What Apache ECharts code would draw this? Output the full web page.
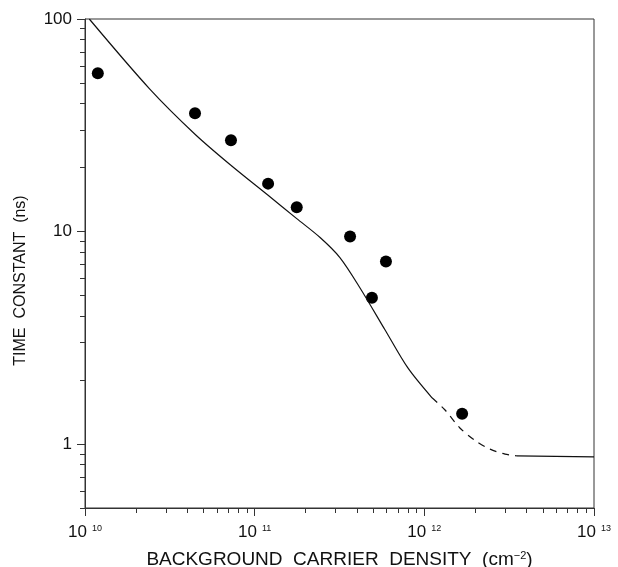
<!DOCTYPE html>
<html>
<head>
<meta charset="utf-8">
<script src="https://cdn.jsdelivr.net/npm/echarts@6.0.0/dist/echarts.min.js"></script>
<style>
html, body { margin: 0; padding: 0; background: #fff; }
#main { width: 618px; height: 567px; }
</style>
</head>
<body>
<div id="main"></div>
<script>
// measured points (density in cm^-2, time in ns)
var densityPts = [1.19e10, 4.45e10, 7.25e10, 1.20e11, 1.77e11, 3.65e11, 5.94e11, 4.91e11, 1.67e12];
var timePts = [55.6, 36.0, 26.9, 16.8, 13.0, 9.47, 7.22, 4.88, 1.39];

// calculated curve, solid part
var curveN = [1.06e10, 2.41e10, 4.45e10, 7.24e10, 1.20e11, 1.77e11, 2.43e11, 3.18e11, 4.17e11, 5.86e11, 8.00e11, 1.11e12];
var curveT = [100, 46.8, 28.7, 20.5, 14.8, 11.5, 9.37, 7.54, 5.44, 3.45, 2.28, 1.65];
// dashed part
var dashN = [1.11e12, 1.32e12, 1.62e12, 1.99e12, 2.44e12, 2.99e12, 3.51e12];
var dashT = [1.65, 1.45, 1.19, 1.04, 0.946, 0.897, 0.88];
// flat tail
var tailN = [3.51e12, 1e13];
var tailT = [0.88, 0.87];

// axis ranges
var xMin = 1e10, xMax = 1e13;
var yMin = 0.5, yMax = 100;
var yLabels = [1, 10, 100];

var myChart = echarts.init(document.getElementById('main'));

function lg(v) { return Math.log10(v); }
function pairs(xs, ys) {
    return xs.map(function (x, i) { return [lg(x), lg(ys[i])]; });
}

// minor ticks at 2..9 of every decade
var xMinor = [], yMinor = [];
for (var d = lg(xMin); d < lg(xMax); d++) {
    for (var k = 2; k < 10; k++) xMinor.push(d + lg(k));
}
for (var d2 = -1; d2 < 2; d2++) {
    for (var k2 = 2; k2 < 10; k2++) {
        var v = d2 + lg(k2);
        if (v >= lg(yMin) - 1e-9) yMinor.push(v);
    }
}

var axisColor = '#333';
var font = 'Liberation Sans';
var rect = { left: 85, right: 24, top: 19, bottom: 59, outerBoundsMode: 'none', containLabel: false };

var option = {
    animation: false,
    grid: [
        Object.assign({ show: true, borderColor: axisColor, borderWidth: 1 }, rect),
        Object.assign({}, rect)
    ],
    xAxis: [{
        type: 'value',
        gridIndex: 0,
        min: lg(xMin),
        max: lg(xMax),
        interval: 1,
        splitLine: { show: false },
        axisLine: { onZero: false, lineStyle: { color: axisColor, width: 1 } },
        axisTick: { length: 8, lineStyle: { color: axisColor } },
        axisLabel: {
            margin: 16,
            formatter: function (v) { return '{b|10}{s|' + v + '}'; },
            rich: {
                b: { fontFamily: font, fontSize: 17, color: '#111' },
                s: { fontFamily: font, fontSize: 9, color: '#111', verticalAlign: 'top', padding: [0, 0, 0, 5] }
            }
        },
        name: 'BACKGROUND  CARRIER  DENSITY  (cm{s|−2})',
        nameLocation: 'middle',
        nameGap: 42,
        nameTextStyle: {
            fontFamily: font, fontSize: 19, color: '#111',
            rich: { s: { fontFamily: font, fontSize: 11, color: '#111', verticalAlign: 'top' } }
        }
    }, {
        type: 'value',
        gridIndex: 1,
        min: lg(xMin),
        max: lg(xMax),
        splitLine: { show: false },
        axisLine: { show: false, onZero: false },
        axisLabel: { show: false },
        axisTick: { length: 5, customValues: xMinor, lineStyle: { color: axisColor } }
    }],
    yAxis: [{
        type: 'value',
        gridIndex: 0,
        min: lg(yMin),
        max: lg(yMax),
        splitLine: { show: false },
        axisLine: { show: true, onZero: false, lineStyle: { color: axisColor, width: 1 } },
        axisTick: { show: true, length: 8, customValues: yLabels.map(lg), lineStyle: { color: axisColor } },
        axisLabel: {
            margin: 13,
            customValues: yLabels.map(lg),
            formatter: function (v) { return String(Math.round(Math.pow(10, v))); },
            fontFamily: font, fontSize: 17, color: '#111'
        },
        name: 'TIME  CONSTANT  (ns)',
        nameLocation: 'middle',
        nameGap: 56,
        nameTextStyle: { fontFamily: font, fontSize: 16, color: '#111', padding: [0, 34, 0, 0] }
    }, {
        type: 'value',
        gridIndex: 1,
        min: lg(yMin),
        max: lg(yMax),
        splitLine: { show: false },
        axisLine: { show: false, onZero: false },
        axisLabel: { show: false },
        axisTick: { show: true, length: 5, customValues: yMinor, lineStyle: { color: axisColor } }
    }],
    series: [{
        type: 'line',
        data: pairs(curveN, curveT),
        showSymbol: false,
        smooth: 0.3,
        lineStyle: { color: '#111', width: 1.2 }
    }, {
        type: 'line',
        data: pairs(dashN, dashT),
        showSymbol: false,
        smooth: 0.3,
        lineStyle: { color: '#111', width: 1.2, type: [7, 6] }
    }, {
        type: 'line',
        data: pairs(tailN, tailT),
        showSymbol: false,
        lineStyle: { color: '#111', width: 1.2 }
    }, {
        type: 'scatter',
        data: pairs(densityPts, timePts),
        symbolSize: 12,
        itemStyle: { color: '#000', opacity: 1 }
    }]
};

myChart.setOption(option);
</script>
</body>
</html>
